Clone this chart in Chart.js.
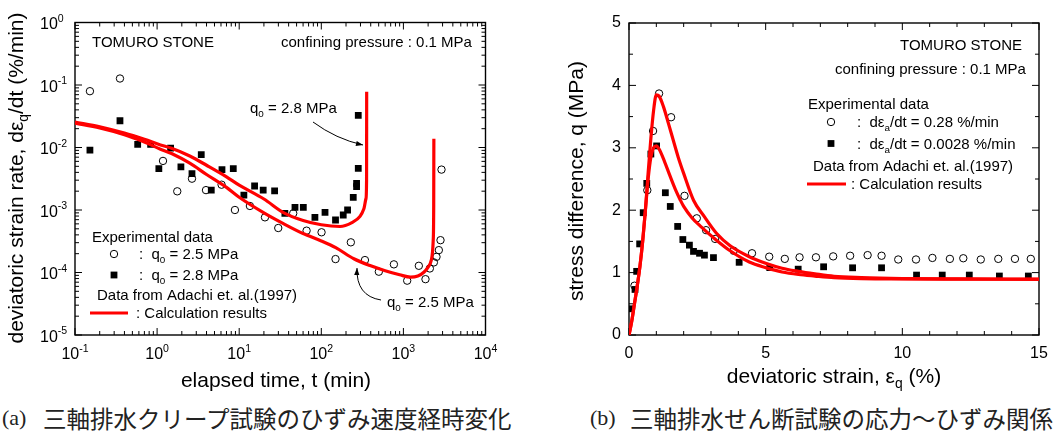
<!DOCTYPE html>
<html><head><meta charset="utf-8">
<script src="https://cdn.jsdelivr.net/npm/chart.js@4.4.1/dist/chart.umd.min.js"></script>
<style>
body{margin:0;background:#fff;width:1062px;height:435px;overflow:hidden;position:relative}
#wa{position:absolute;left:0;top:0;width:530px;height:400px}
#wb{position:absolute;left:530px;top:0;width:532px;height:400px}
.cap{position:absolute;top:404px;font-size:23.5px;line-height:28px;white-space:nowrap;color:#222}
.lat{font-family:"Liberation Serif","DejaVu Serif",serif;font-size:22px}
.jp{font-family:"Noto Sans CJK JP",sans-serif}
</style></head><body>
<div id="wa"><canvas id="ca" width="530" height="400"></canvas></div>
<div id="wb"><canvas id="cb" width="532" height="400"></canvas></div>
<div class="cap lat" style="left:2px">(a)</div>
<div class="cap jp" style="left:43px">三軸排水クリープ試験のひずみ速度経時変化</div>
<div class="cap lat" style="left:590px">(b)</div>
<div class="cap jp" style="left:630px">三軸排水せん断試験の応力～ひずみ関係</div>
<script>
// ---------- (a) creep test: strain rate vs elapsed time ----------
const creepTimeQ25 = [0.152,0.353,1.18,1.76,2.66,3.94,6.1,8.87,13.5,20.6,29.9,45.5,66.2,100.7,149,229,340,502,766,1112,1542,1858,2099,2350,2530,2702,2831,2911];
const creepRateQ25 = [0.0796,0.127,0.0061,0.00199,0.00317,0.00208,0.00254,0.00100,0.00116,0.000763,0.000515,0.000885,0.000467,0.00044,0.000164,0.000304,0.000158,0.000103,0.000135,0.000074,0.000128,0.0000782,0.000116,0.000145,0.000178,0.000228,0.000329,0.00443];
const creepTimeQ28 = [0.152,0.353,0.58,0.834,1.05,1.46,1.95,2.66,3.45,4.57,6.17,8.47,11.4,15.4,19.6,27,36,47.8,60.4,83.6,111,149,185,209,245,269,269,282,282];
const creepRateQ28 = [0.00906,0.0268,0.0112,0.0112,0.00459,0.00976,0.00489,0.00382,0.00771,0.00208,0.00443,0.00459,0.00173,0.00242,0.00208,0.00203,0.000885,0.0011,0.0011,0.000763,0.000918,0.000692,0.000832,0.001,0.00159,0.00236,0.00267,0.00465,0.0327];
const calcTimeQ28 = [0.1,0.2,0.4,0.7,1.1,1.5,2.5,4,7,10,20,35,60,100,169,236,296,331,350,356,357];
const calcRateQ28 = [0.0256,0.0215,0.017,0.0135,0.011,0.0097,0.0073,0.0052,0.0034,0.0025,0.0015,0.0009,0.00068,0.00058,0.000545,0.00063,0.00079,0.00106,0.00152,0.0030,0.078];
const calcTimeQ25 = [0.1,0.2,0.4,0.7,1.1,1.5,2.5,4,7,10,20,35,60,100,150,249,400,600,900,1222,1500,1775,2000,2183,2307,2340,2350];
const calcRateQ25 = [0.0245,0.0205,0.016,0.0122,0.0094,0.008,0.0056,0.0037,0.0023,0.0016,0.0009,0.0006,0.00042,0.00032,0.00025,0.000166,0.000128,0.000107,0.000092,0.0000841,0.000088,0.000101,0.000122,0.000156,0.000325,0.0012,0.0138];
const timeTickExponents = [-1,0,1,2,3,4];
const rateTickExponents = [0,-1,-2,-3,-4,-5];

// ---------- (b) shear test: stress difference vs deviatoric strain ----------
const strainFast = [0.2,0.67,0.88,1.1,1.54,2.03,2.48,2.82,3.15,3.83,4.5,5.13,5.7,6.24,6.84,7.47,8.09,8.73,9.24,9.85,10.5,11.1,11.74,12.23,12.87,13.51,14.12,14.7];
const stressFast = [0.79,2.32,3.27,3.87,3.49,2.23,1.87,1.68,1.54,1.35,1.31,1.255,1.22,1.245,1.245,1.26,1.27,1.28,1.27,1.21,1.21,1.235,1.22,1.23,1.21,1.22,1.22,1.22];
const strainSlow = [0.09,0.22,0.28,0.39,0.52,0.65,0.8,1.01,1.33,1.51,1.78,1.97,2.21,2.36,2.58,2.76,3.09,4.03,5.15,6.19,7.12,8.18,9.24,10.52,11.46,12.45,13.55,14.61];
const stressSlow = [0.42,0.73,1.02,1.46,1.96,2.43,2.9,3.03,2.28,2.06,1.74,1.53,1.44,1.34,1.31,1.28,1.24,1.165,1.08,1.055,1.093,1.077,1.077,0.96,0.96,0.96,0.945,0.945];
const calcStrainFast = [0,0.1,0.2,0.3,0.4,0.5,0.6,0.7,0.8,0.9,1.0,1.1,1.26,1.45,1.62,1.8,2.0,2.36,2.75,3.2,3.7,4.4,5.0,5.6,6.2,6.8,7.5,8.5,10,12,15];
const calcStressFast = [0,0.22,0.5,0.78,1.1,1.5,2.0,2.6,3.15,3.6,3.85,3.83,3.66,3.38,3.12,2.85,2.59,2.16,1.9,1.63,1.43,1.255,1.15,1.07,1.02,0.98,0.94,0.92,0.905,0.898,0.895];
const calcStrainSlow = [0,0.1,0.2,0.3,0.4,0.5,0.6,0.7,0.8,0.9,1.0,1.1,1.3,1.5,1.7,1.88,2.0,2.3,2.6,3.2,3.7,4.4,5.0,5.6,6.2,6.8,7.5,8.5,10,12,15];
const calcStressSlow = [0,0.22,0.5,0.78,1.1,1.5,2.0,2.5,2.85,3.0,3.03,2.98,2.78,2.55,2.33,2.16,2.06,1.88,1.75,1.52,1.35,1.17,1.08,1.01,0.97,0.945,0.92,0.905,0.898,0.895,0.893];
const strainTicks = [0,5,10,15];
const stressTicks = [0,1,2,3,4,5];

const FONT = '"Liberation Sans", Arial, sans-serif';
const RED = '#ff0000';
const pts = (xs, ys) => xs.map((x, i) => ({x, y: ys[i]}));

function rich(ctx, parts, x, y, size, align) {
  let w = 0;
  const m = parts.map(([t, md]) => {
    const s = md ? size * 0.66 : size;
    ctx.font = s + 'px ' + FONT;
    const tw = ctx.measureText(t).width; w += tw;
    return {t, md, s, tw};
  });
  let cx = align === 'center' ? x - w / 2 : align === 'right' ? x - w : x;
  ctx.textBaseline = 'middle'; ctx.textAlign = 'left';
  for (const p of m) {
    ctx.font = p.s + 'px ' + FONT;
    const dy = p.md === 'sub' ? size * 0.32 : p.md === 'sup' ? -size * 0.38 : 0;
    ctx.fillText(p.t, cx, y + dy);
    cx += p.tw;
  }
  return w;
}
function drawFrame(ctx, a, xt, yt) {
  ctx.save();
  ctx.strokeStyle = '#000'; ctx.lineWidth = 1;
  ctx.beginPath();
  for (const t of xt) { const L = t.major ? 7 : 4;
    ctx.moveTo(t.p, a.bottom); ctx.lineTo(t.p, a.bottom - L);
    ctx.moveTo(t.p, a.top); ctx.lineTo(t.p, a.top + L); }
  for (const t of yt) { const L = t.major ? 7 : 4;
    ctx.moveTo(a.left, t.p); ctx.lineTo(a.left + L, t.p);
    ctx.moveTo(a.right, t.p); ctx.lineTo(a.right - L, t.p); }
  ctx.stroke();
  ctx.lineWidth = 1.4;
  ctx.strokeRect(a.left, a.top, a.right - a.left, a.bottom - a.top);
  ctx.restore();
}
function logTicks(scale, lo, hi) {
  const out = [];
  for (let e = lo; e < hi; e++) for (let k = 1; k < 10; k++) out.push({p: scale.getPixelForValue(k * Math.pow(10, e)), major: k === 1});
  out.push({p: scale.getPixelForValue(Math.pow(10, hi)), major: true});
  return out;
}
function linTicks(scale, lo, hi, step, majorEvery) {
  const out = [];
  for (let v = lo; v <= hi + 1e-9; v += step) out.push({p: scale.getPixelForValue(v), major: Math.abs(v / majorEvery - Math.round(v / majorEvery)) < 1e-6});
  return out;
}
function arrow(ctx, x0, y0, cx, cy, x1, y1) {
  ctx.save(); ctx.lineWidth = 1; ctx.strokeStyle = '#000'; ctx.fillStyle = '#000';
  ctx.beginPath(); ctx.moveTo(x0, y0); ctx.quadraticCurveTo(cx, cy, x1, y1); ctx.stroke();
  const a = Math.atan2(y1 - cy, x1 - cx), L = 7, W = 2.6;
  ctx.beginPath(); ctx.moveTo(x1, y1);
  ctx.lineTo(x1 - L * Math.cos(a) + W * Math.sin(a), y1 - L * Math.sin(a) - W * Math.cos(a));
  ctx.lineTo(x1 - L * Math.cos(a) - W * Math.sin(a), y1 - L * Math.sin(a) + W * Math.cos(a));
  ctx.closePath(); ctx.fill(); ctx.restore();
}
function mCircle(ctx, x, y) { ctx.save(); ctx.lineWidth = 1; ctx.strokeStyle = '#000'; ctx.beginPath(); ctx.arc(x, y, 3.7, 0, 2 * Math.PI); ctx.stroke(); ctx.restore(); }
function mSquare(ctx, x, y) { ctx.fillStyle = '#000'; ctx.fillRect(x - 3.4, y - 3.4, 6.8, 6.8); }
function mLine(ctx, x0, x1, y) { ctx.save(); ctx.strokeStyle = RED; ctx.lineWidth = 3.2; ctx.beginPath(); ctx.moveTo(x0, y); ctx.lineTo(x1, y); ctx.stroke(); ctx.restore(); }

function curveDs(data) { return {type: 'line', data, borderColor: RED, borderWidth: 3.2, pointRadius: 0, fill: false, cubicInterpolationMode: 'monotone'}; }
function circDs(data) { return {type: 'scatter', data, pointStyle: 'circle', pointRadius: 3.7, borderWidth: 1, borderColor: '#000', backgroundColor: 'rgba(255,255,255,0)'}; }
function sqDs(data) { return {type: 'scatter', data, pointStyle: 'rect', pointRadius: 4.8, borderWidth: 0, borderColor: '#000', backgroundColor: '#000'}; }

const TITLE = 21;

// ---------- chart (a) ----------
new Chart(document.getElementById('ca'), {
  type: 'scatter',
  data: {datasets: [
    curveDs(pts(calcTimeQ28, calcRateQ28)),
    curveDs(pts(calcTimeQ25, calcRateQ25)),
    circDs(pts(creepTimeQ25, creepRateQ25)),
    sqDs(pts(creepTimeQ28, creepRateQ28))
  ]},
  options: {
    responsive: false, animation: false, devicePixelRatio: 1, events: [],
    layout: {padding: {left: 75, right: 44.5, top: 22.5, bottom: 65}},
    plugins: {legend: {display: false}, tooltip: {enabled: false}},
    scales: {
      x: {type: 'logarithmic', min: 0.1, max: 10000, display: false},
      y: {type: 'logarithmic', min: 1e-5, max: 1, display: false}
    }
  },
  plugins: [{
    id: 'decorA',
    beforeDatasetsDraw(chart) {
      const ctx = chart.ctx, a = chart.chartArea, xs = chart.scales.x, ys = chart.scales.y;
      drawFrame(ctx, a, logTicks(xs, -1, 4), logTicks(ys, -5, 0));
    },
    afterDatasetsDraw(chart) {
      const ctx = chart.ctx, xs = chart.scales.x, ys = chart.scales.y;
      ctx.save(); ctx.fillStyle = '#000';
      for (const e of timeTickExponents) rich(ctx, [['10', ''], [String(e), 'sup']], xs.getPixelForValue(Math.pow(10, e)), 355, 16, 'center');
      for (const e of rateTickExponents) rich(ctx, [['10', ''], [String(e), 'sup']], 40, ys.getPixelForValue(Math.pow(10, e)) + 2.5, 16, 'left');
      rich(ctx, [['elapsed time, t (min)', '']], 276, 381, TITLE, 'center');
      ctx.save(); ctx.translate(17, 178); ctx.rotate(-Math.PI / 2);
      rich(ctx, [['deviatoric strain rate, dε', ''], ['q', 'sub'], ['/dt (%/min)', '']], 0, 0, TITLE, 'center');
      ctx.restore();
      rich(ctx, [['TOMURO STONE', '']], 92, 43, 15, 'left');
      rich(ctx, [['confining pressure : 0.1 MPa', '']], 281, 43, 15, 'left');
      rich(ctx, [['Experimental data', '']], 92, 238, 15, 'left');
      mCircle(ctx, 114, 254);
      rich(ctx, [[':  q', ''], ['0', 'sub'], [' = 2.5 MPa', '']], 139, 255, 15, 'left');
      mSquare(ctx, 114, 275);
      rich(ctx, [[':  q', ''], ['0', 'sub'], [' = 2.8 MPa', '']], 139, 276, 15, 'left');
      rich(ctx, [['Data from Adachi et. al.(1997)', '']], 97, 296, 15, 'left');
      mLine(ctx, 90, 128, 313);
      rich(ctx, [[': Calculation results', '']], 136, 314, 15, 'left');
      rich(ctx, [['q', ''], ['0', 'sub'], [' = 2.8 MPa', '']], 250, 109, 15, 'left');
      arrow(ctx, 313, 122, 336, 139, 363, 145);
      rich(ctx, [['q', ''], ['0', 'sub'], [' = 2.5 MPa', '']], 387, 303, 15, 'left');
      arrow(ctx, 381, 300, 356, 296, 357, 268);
      ctx.restore();
    }
  }]
});

// ---------- chart (b) ----------
new Chart(document.getElementById('cb'), {
  type: 'scatter',
  data: {datasets: [
    curveDs(pts(calcStrainFast, calcStressFast)),
    curveDs(pts(calcStrainSlow, calcStressSlow)),
    circDs(pts(strainFast, stressFast)),
    sqDs(pts(strainSlow, stressSlow))
  ]},
  options: {
    responsive: false, animation: false, devicePixelRatio: 1, events: [],
    layout: {padding: {left: 99, right: 23, top: 23, bottom: 65}},
    plugins: {legend: {display: false}, tooltip: {enabled: false}},
    scales: {
      x: {type: 'linear', min: 0, max: 15, display: false},
      y: {type: 'linear', min: 0, max: 5, display: false}
    }
  },
  plugins: [{
    id: 'decorB',
    beforeDatasetsDraw(chart) {
      const ctx = chart.ctx, a = chart.chartArea, xs = chart.scales.x, ys = chart.scales.y;
      drawFrame(ctx, a, linTicks(xs, 0, 15, 1, 5), linTicks(ys, 0, 5, 0.5, 1));
    },
    afterDatasetsDraw(chart) {
      const ctx = chart.ctx, xs = chart.scales.x, ys = chart.scales.y;
      ctx.save(); ctx.fillStyle = '#000';
      for (const v of strainTicks) rich(ctx, [[String(v), '']], xs.getPixelForValue(v), 354, 16, 'center');
      for (const v of stressTicks) rich(ctx, [[String(v), '']], 91, ys.getPixelForValue(v), 16, 'right');
      rich(ctx, [['deviatoric strain, ε', ''], ['q', 'sub'], [' (%)', '']], 304, 377, TITLE, 'center');
      ctx.save(); ctx.translate(47, 181); ctx.rotate(-Math.PI / 2);
      rich(ctx, [['stress difference, q (MPa)', '']], 0, 0, TITLE, 'center');
      ctx.restore();
      rich(ctx, [['TOMURO STONE', '']], 492, 46, 15, 'right');
      rich(ctx, [['confining pressure : 0.1 MPa', '']], 305, 70, 15, 'left');
      rich(ctx, [['Experimental data', '']], 278, 105, 15, 'left');
      mCircle(ctx, 301, 122);
      rich(ctx, [[':  dε', ''], ['a', 'sub'], ['/dt = 0.28 %/min', '']], 327, 123, 15, 'left');
      mSquare(ctx, 301, 143.5);
      rich(ctx, [[':  dε', ''], ['a', 'sub'], ['/dt = 0.0028 %/min', '']], 327, 145, 15, 'left');
      rich(ctx, [['Data from Adachi et. al.(1997)', '']], 283, 166.5, 15, 'left');
      mLine(ctx, 277, 316, 184);
      rich(ctx, [[': Calculation results', '']], 321, 185, 15, 'left');
      ctx.restore();
    }
  }]
});
</script>
</body></html>
